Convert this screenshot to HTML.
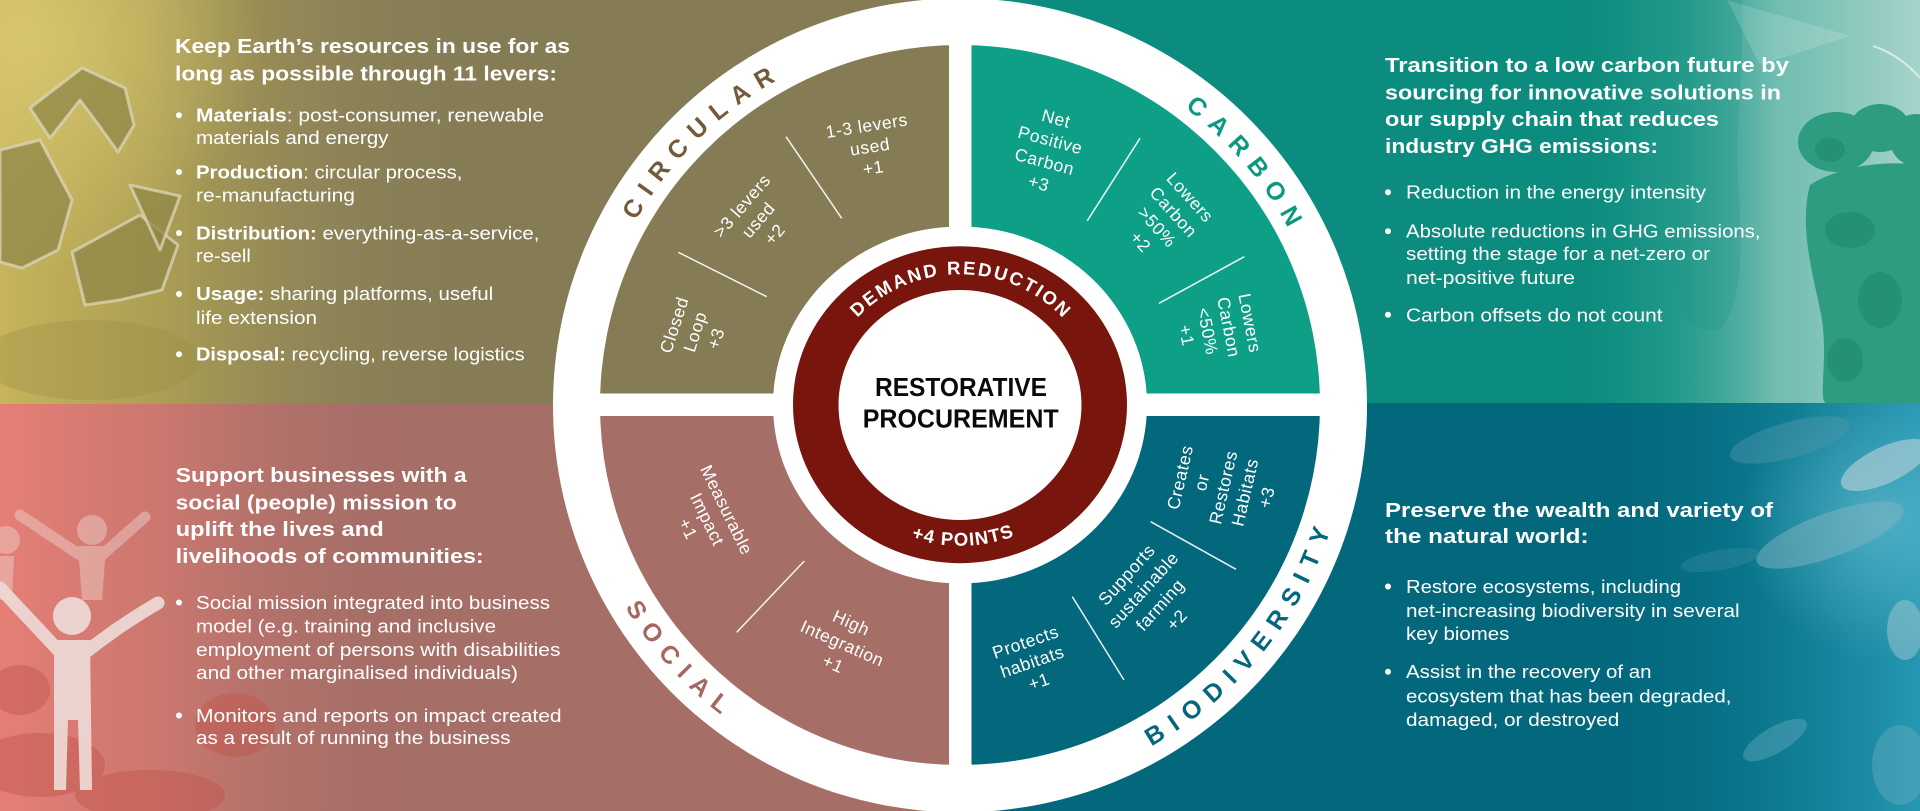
<!DOCTYPE html>
<html><head><meta charset="utf-8">
<style>
html,body{margin:0;padding:0;width:1920px;height:811px;overflow:hidden;background:#fff}
svg{display:block}
text{font-family:"Liberation Sans",Arial,sans-serif}
.h{font-weight:bold;font-size:20.5px;fill:#fff}
.b{font-size:18.5px;fill:#fff}
.s{font-size:17.5px;fill:#fff;letter-spacing:0.6px}
.ring{font-weight:bold;font-size:25px;letter-spacing:10px}
.red{font-weight:bold;font-size:18.5px;fill:#fff}
.ct{font-weight:bold;font-size:25.5px;fill:#0a0a0a}
</style></head><body>
<svg width="1920" height="811" viewBox="0 0 1920 811" xmlns="http://www.w3.org/2000/svg">
<defs>
  <linearGradient id="tlG" x1="0" y1="0" x2="520" y2="0" gradientUnits="userSpaceOnUse">
    <stop offset="0" stop-color="#c7b45c"/>
    <stop offset="0.3" stop-color="#b3a653" stop-opacity="0.85"/>
    <stop offset="0.65" stop-color="#9a8f5a" stop-opacity="0.4"/>
    <stop offset="1" stop-color="#857B55" stop-opacity="0"/>
  </linearGradient>
  <radialGradient id="tlR" cx="30" cy="40" r="230" gradientUnits="userSpaceOnUse">
    <stop offset="0" stop-color="#dccb73" stop-opacity="0.8"/>
    <stop offset="1" stop-color="#dccb73" stop-opacity="0"/>
  </radialGradient>
  <linearGradient id="blG" x1="0" y1="0" x2="430" y2="0" gradientUnits="userSpaceOnUse">
    <stop offset="0" stop-color="#e57f76"/>
    <stop offset="0.4" stop-color="#d57a71" stop-opacity="0.75"/>
    <stop offset="1" stop-color="#A56E67" stop-opacity="0"/>
  </linearGradient>
  <linearGradient id="trG" x1="1560" y1="0" x2="1920" y2="0" gradientUnits="userSpaceOnUse">
    <stop offset="0" stop-color="#0C8C7E" stop-opacity="0"/>
    <stop offset="0.35" stop-color="#3aa898" stop-opacity="0.6"/>
    <stop offset="0.6" stop-color="#7cc2b6" stop-opacity="0.9"/>
    <stop offset="1" stop-color="#a6d3ca"/>
  </linearGradient>
  <linearGradient id="brG" x1="1580" y1="0" x2="1920" y2="0" gradientUnits="userSpaceOnUse">
    <stop offset="0" stop-color="#04687D" stop-opacity="0"/>
    <stop offset="0.5" stop-color="#0d7f96" stop-opacity="0.6"/>
    <stop offset="1" stop-color="#2a9db8" stop-opacity="0.9"/>
  </linearGradient>
  <radialGradient id="brR" cx="1880" cy="520" r="140" gradientUnits="userSpaceOnUse">
    <stop offset="0" stop-color="#6cc2d6" stop-opacity="0.6"/>
    <stop offset="1" stop-color="#6cc2d6" stop-opacity="0"/>
  </radialGradient>
  <path id="pCirc" d="M587,405.3 A373,373 0 0 1 960,32.3"/>
  <path id="pCarb" d="M987.97,33.35 A373,373 0 0 1 1331.95,433.27"/>
  <path id="pSoc" d="M569.65,382.79 A391,391 0 0 0 937.49,795.65"/>
  <path id="pBio" d="M996.12,794.63 A391,391 0 0 0 1349.33,369.18"/>
  <path id="pDem" d="M822.6,404.7 A137.4,130.4 0 0 1 1097.4,404.7"/>
  <path id="pPts" d="M810,404.7 A150,141 0 0 0 1110,404.7"/>
</defs>

<!-- backgrounds -->
<rect x="0" y="0" width="960" height="404" fill="#857B55"/>
<rect x="960" y="0" width="960" height="403" fill="#0C8C7E"/>
<rect x="0" y="404" width="960" height="407" fill="#A56E67"/>
<rect x="960" y="403" width="960" height="408" fill="#04687D"/>

<!-- TL photo -->
<rect x="0" y="0" width="520" height="404" fill="url(#tlG)"/>
<rect x="0" y="0" width="400" height="300" fill="url(#tlR)"/>
<g fill="#8f8747" fill-opacity="0.75" stroke="#dcd6bb" stroke-opacity="0.75" stroke-width="3" stroke-linejoin="round">
  <polygon points="30,108 82,68 125,88 134,125 118,152 98,124 80,100 50,138"/>
  <polygon points="0,150 40,140 72,200 58,250 22,268 0,262"/>
  <polygon points="72,252 140,215 178,245 162,290 120,300 85,305"/>
  <polygon points="130,185 180,196 160,250"/>
</g>
<ellipse cx="90" cy="360" rx="110" ry="40" fill="#9a8d45" opacity="0.35"/>

<!-- BL photo -->
<rect x="0" y="404" width="430" height="407" fill="url(#blG)"/>
<g fill="#c2554c" opacity="0.45">
  <ellipse cx="40" cy="765" rx="65" ry="32"/>
  <ellipse cx="150" cy="795" rx="75" ry="25"/>
  <ellipse cx="235" cy="725" rx="40" ry="32"/>
  <ellipse cx="20" cy="690" rx="30" ry="25"/>
</g>
<g opacity="0.45" fill="#efd5d0" stroke="#efd5d0">
  <circle cx="92" cy="530" r="15" stroke="none"/>
  <path d="M78,546 L106,546 L102,600 L82,600 Z" stroke="none"/>
  <path d="M80,555 L20,515 M102,555 L145,517" stroke-width="11" stroke-linecap="round" fill="none"/>
  <circle cx="6" cy="540" r="14" stroke="none"/>
  <path d="M0,556 L14,556 L12,600 L0,600 Z" stroke="none"/>
</g>
<g fill="#eedad6" stroke="#eedad6" opacity="0.92">
  <circle cx="72" cy="616" r="19" stroke="none"/>
  <path d="M54,640 L90,640 L92,790 L80,790 L78,720 L68,720 L66,790 L54,790 Z" stroke="none"/>
  <path d="M60,652 L0,588 M86,652 Q120,625 158,603" stroke-width="13" stroke-linecap="round" fill="none"/>
</g>

<!-- TR photo -->
<rect x="1560" y="0" width="360" height="403" fill="url(#trG)"/>
<path d="M1655,0 L1742,0 C1745,60 1735,120 1738,180 C1742,240 1745,300 1720,330 C1690,335 1668,310 1670,260 C1672,200 1650,140 1652,80 Z" fill="#1a9482" opacity="0.25"/>
<polygon points="1727,0 1850,36 1760,65" fill="#ffffff" opacity="0.15"/>
<path d="M1873,46 Q1900,55 1920,78" stroke="#ffffff" stroke-width="2" fill="none" opacity="0.6"/>
<g fill="#2d9c80">
  <ellipse cx="1836" cy="142" rx="38" ry="30"/>
  <ellipse cx="1880" cy="128" rx="30" ry="24"/>
  <ellipse cx="1916" cy="140" rx="26" ry="26"/>
  <path d="M1810,185 C1798,230 1815,280 1822,320 C1828,360 1818,400 1826,403 L1920,403 L1920,165 C1890,160 1840,165 1810,185 Z"/>
</g>
<g fill="#1d876d" opacity="0.55">
  <ellipse cx="1850" cy="230" rx="25" ry="18"/>
  <ellipse cx="1880" cy="300" rx="22" ry="28"/>
  <ellipse cx="1845" cy="360" rx="18" ry="22"/>
  <ellipse cx="1830" cy="150" rx="15" ry="12"/>
</g>

<!-- BR photo -->
<rect x="1580" y="403" width="340" height="408" fill="url(#brG)"/>
<rect x="1740" y="403" width="180" height="260" fill="url(#brR)"/>
<g>
  <ellipse cx="1790" cy="440" rx="62" ry="18" transform="rotate(-15 1790 440)" fill="#4f97a8" opacity="0.45"/>
  <ellipse cx="1830" cy="535" rx="78" ry="22" transform="rotate(-20 1830 535)" fill="#7fb3c1" opacity="0.5"/>
  <ellipse cx="1885" cy="465" rx="48" ry="18" transform="rotate(-25 1885 465)" fill="#a9cbd3" opacity="0.7"/>
  <ellipse cx="1905" cy="630" rx="18" ry="30" fill="#a0c8d2" opacity="0.5"/>
  <ellipse cx="1775" cy="740" rx="36" ry="13" transform="rotate(-30 1775 740)" fill="#6fb0c0" opacity="0.4"/>
  <ellipse cx="1900" cy="765" rx="28" ry="40" fill="#6fb0c0" opacity="0.4"/>
  <ellipse cx="1720" cy="560" rx="40" ry="10" transform="rotate(-10 1720 560)" fill="#3f8fa0" opacity="0.35"/>
</g>

<!-- circle structure -->
<circle cx="960" cy="405.3" r="407" fill="#fff"/>
<path d="M960,405 L600,405 A360,360 0 0 1 960,45 Z" fill="#857B55"/>
<path d="M960,405 L960,45 A360,360 0 0 1 1320,405 Z" fill="#0EA086"/>
<path d="M960,405 L1320,405 A360,360 0 0 1 960,765 Z" fill="#04687D"/>
<path d="M960,405 L960,765 A360,360 0 0 1 600,405 Z" fill="#A56E67"/>
<rect x="949" y="30" width="22.5" height="750" fill="#fff"/>
<rect x="590" y="393.5" width="740" height="22.5" fill="#fff"/>
<ellipse cx="960" cy="405" rx="187" ry="178.5" fill="#fff"/>
<ellipse cx="960" cy="404.7" rx="167" ry="158.5" fill="#78150D"/>
<ellipse cx="960" cy="405" rx="121.5" ry="115" fill="#fff"/>

<!-- ring labels -->
<text class="ring" fill="#735a3a" text-anchor="middle"><textPath href="#pCirc" startOffset="298">CIRCULAR</textPath></text>
<text class="ring" fill="#0b9a80" text-anchor="middle"><textPath href="#pCarb" startOffset="298">CARBON</textPath></text>
<text class="ring" fill="#a5675f" text-anchor="middle"><textPath href="#pSoc" startOffset="312">SOCIAL</textPath></text>
<text class="ring" fill="#03687d" text-anchor="middle"><textPath href="#pBio" startOffset="312">BIODIVERSITY</textPath></text>

<text class="red" text-anchor="middle" style="letter-spacing:2.2px"><textPath href="#pDem" startOffset="211.5">DEMAND REDUCTION</textPath></text>
<text class="red" text-anchor="middle" style="letter-spacing:1.2px"><textPath href="#pPts" startOffset="232">+4 POINTS</textPath></text>

<text class="ct" x="875" y="396" textLength="172" lengthAdjust="spacingAndGlyphs">RESTORATIVE</text>
<text class="ct" x="862.7" y="427.7" textLength="196" lengthAdjust="spacingAndGlyphs">PROCUREMENT</text>

<!-- divider lines -->
<g stroke="#fff" stroke-width="1.5" stroke-opacity="0.9">
  <line x1="786" y1="136.7" x2="841.7" y2="218.3"/>
  <line x1="678.3" y1="252.3" x2="766.7" y2="296.7"/>
  <line x1="1140" y1="138.3" x2="1087.3" y2="220.7"/>
  <line x1="1244.3" y1="256.7" x2="1159" y2="303.3"/>
  <line x1="804.3" y1="561" x2="736.7" y2="632.3"/>
  <line x1="1150.7" y1="521.7" x2="1236" y2="569.3"/>
  <line x1="1072.3" y1="596.7" x2="1124" y2="680"/>
</g>

<!-- sector labels -->
<g class="s" text-anchor="middle">
  <g transform="translate(870,146.7) rotate(-9)">
    <text class="s" y="-15.3">1-3 levers</text><text class="s" y="6">used</text><text class="s" y="27.3">+1</text>
  </g>
  <g transform="translate(758.3,220) rotate(-49)">
    <text class="s" y="-15.7">&gt;3 levers</text><text class="s" y="6">used</text><text class="s" y="27.7">+2</text>
  </g>
  <g transform="translate(695,331.7) rotate(-72)">
    <text class="s" y="-15.9">Closed</text><text class="s" y="6">Loop</text><text class="s" y="27.9">+3</text>
  </g>
  <g transform="translate(1047.5,150.8) rotate(15)">
    <text class="s" y="-27.45">Net</text><text class="s" y="-5.15">Positive</text><text class="s" y="17.15">Carbon</text><text class="s" y="39.45">+3</text>
  </g>
  <g transform="translate(1165.3,219.5) rotate(48)">
    <text class="s" y="-27.3">Lowers</text><text class="s" y="-5.1">Carbon</text><text class="s" y="17.1">&gt;50%</text><text class="s" y="39.3">+2</text>
  </g>
  <g transform="translate(1218.3,329.2) rotate(79)">
    <text class="s" y="-26.25">Lowers</text><text class="s" y="-4.75">Carbon</text><text class="s" y="16.75">&lt;50%</text><text class="s" y="38.25">+1</text>
  </g>
  <g transform="translate(707.3,519.3) rotate(64)">
    <text class="s" y="-15.5">Measurable</text><text class="s" y="6">Impact</text><text class="s" y="27.5">+1</text>
  </g>
  <g transform="translate(842.3,643.3) rotate(24)">
    <text class="s" y="-16.4">High</text><text class="s" y="6">Integration</text><text class="s" y="28.4">+1</text>
  </g>
  <g transform="translate(1223.3,487.3) rotate(-77)">
    <text class="s" y="-38.4">Creates</text><text class="s" y="-16.2">or</text><text class="s" y="6">Restores</text><text class="s" y="28.2">Habitats</text><text class="s" y="50.4">+3</text>
  </g>
  <g transform="translate(1151.7,597.3) rotate(-48)">
    <text class="s" y="-27.75">Supports</text><text class="s" y="-5.25">sustainable</text><text class="s" y="17.25">farming</text><text class="s" y="39.75">+2</text>
  </g>
  <g transform="translate(1032.3,661.7) rotate(-19)">
    <text class="s" y="-14.8">Protects</text><text class="s" y="6">habitats</text><text class="s" y="26.8">+1</text>
  </g>
</g>

<!-- TL text -->
<text class="h" x="175" y="53" textLength="395" lengthAdjust="spacingAndGlyphs">Keep Earth’s resources in use for as</text>
<text class="h" x="175" y="80.5" textLength="382" lengthAdjust="spacingAndGlyphs">long as possible through 11 levers:</text>
<g fill="#fff">
  <circle cx="179" cy="115.3" r="3"/><circle cx="179" cy="172" r="3"/><circle cx="179" cy="233" r="3"/><circle cx="179" cy="294" r="3"/><circle cx="179" cy="354.3" r="3"/>
</g>
<text class="b" x="196" y="121.5" textLength="348" lengthAdjust="spacingAndGlyphs"><tspan font-weight="bold">Materials</tspan>: post-consumer, renewable</text>
<text class="b" x="196" y="143.8" textLength="192.5" lengthAdjust="spacingAndGlyphs">materials and energy</text>
<text class="b" x="196" y="178.3" textLength="266.4" lengthAdjust="spacingAndGlyphs"><tspan font-weight="bold">Production</tspan>: circular process,</text>
<text class="b" x="196" y="201.4" textLength="159" lengthAdjust="spacingAndGlyphs">re-manufacturing</text>
<text class="b" x="196" y="239.3" textLength="343.4" lengthAdjust="spacingAndGlyphs"><tspan font-weight="bold">Distribution:</tspan> everything-as-a-service,</text>
<text class="b" x="196" y="261.9" textLength="54.8" lengthAdjust="spacingAndGlyphs">re-sell</text>
<text class="b" x="196" y="300.2" textLength="297.2" lengthAdjust="spacingAndGlyphs"><tspan font-weight="bold">Usage:</tspan> sharing platforms, useful</text>
<text class="b" x="196" y="323.8" textLength="121" lengthAdjust="spacingAndGlyphs">life extension</text>
<text class="b" x="196" y="360.5" textLength="328.6" lengthAdjust="spacingAndGlyphs"><tspan font-weight="bold">Disposal:</tspan> recycling, reverse logistics</text>

<!-- BL text -->
<text class="h" x="175.7" y="482" textLength="291" lengthAdjust="spacingAndGlyphs">Support businesses with a</text>
<text class="h" x="175.7" y="509.3" textLength="281" lengthAdjust="spacingAndGlyphs">social (people) mission to</text>
<text class="h" x="175.7" y="536.1" textLength="208" lengthAdjust="spacingAndGlyphs">uplift the lives and</text>
<text class="h" x="175.7" y="563" textLength="308" lengthAdjust="spacingAndGlyphs">livelihoods of communities:</text>
<g fill="#fff"><circle cx="179" cy="602.5" r="3"/><circle cx="179" cy="715.5" r="3"/></g>
<text class="b" x="196" y="608.8" textLength="354" lengthAdjust="spacingAndGlyphs">Social mission integrated into business</text>
<text class="b" x="196" y="632.6" textLength="300" lengthAdjust="spacingAndGlyphs">model (e.g. training and inclusive</text>
<text class="b" x="196" y="656.2" textLength="364.5" lengthAdjust="spacingAndGlyphs">employment of persons with disabilities</text>
<text class="b" x="196" y="679.2" textLength="322" lengthAdjust="spacingAndGlyphs">and other marginalised individuals)</text>
<text class="b" x="196" y="721.8" textLength="365.6" lengthAdjust="spacingAndGlyphs">Monitors and reports on impact created</text>
<text class="b" x="196" y="744" textLength="314.5" lengthAdjust="spacingAndGlyphs">as a result of running the business</text>

<!-- TR text -->
<text class="h" x="1385" y="72" textLength="404" lengthAdjust="spacingAndGlyphs">Transition to a low carbon future by</text>
<text class="h" x="1385" y="99.3" textLength="396" lengthAdjust="spacingAndGlyphs">sourcing for innovative solutions in</text>
<text class="h" x="1385" y="126" textLength="334" lengthAdjust="spacingAndGlyphs">our supply chain that reduces</text>
<text class="h" x="1385" y="153" textLength="273" lengthAdjust="spacingAndGlyphs">industry GHG emissions:</text>
<g fill="#fff"><circle cx="1388" cy="192.3" r="3"/><circle cx="1388" cy="231.2" r="3"/><circle cx="1388" cy="314.8" r="3"/></g>
<text class="b" x="1406" y="198.6" textLength="300" lengthAdjust="spacingAndGlyphs">Reduction in the energy intensity</text>
<text class="b" x="1406" y="237.5" textLength="354.6" lengthAdjust="spacingAndGlyphs">Absolute reductions in GHG emissions,</text>
<text class="b" x="1406" y="260" textLength="304" lengthAdjust="spacingAndGlyphs">setting the stage for a net-zero or</text>
<text class="b" x="1406" y="284.2" textLength="169" lengthAdjust="spacingAndGlyphs">net-positive future</text>
<text class="b" x="1406" y="321.3" textLength="256.6" lengthAdjust="spacingAndGlyphs">Carbon offsets do not count</text>

<!-- BR text -->
<text class="h" x="1385" y="517" textLength="388" lengthAdjust="spacingAndGlyphs">Preserve the wealth and variety of</text>
<text class="h" x="1385" y="543.2" textLength="203.6" lengthAdjust="spacingAndGlyphs">the natural world:</text>
<g fill="#fff"><circle cx="1388" cy="586.5" r="3"/><circle cx="1388" cy="671.8" r="3"/></g>
<text class="b" x="1406" y="593" textLength="275" lengthAdjust="spacingAndGlyphs">Restore ecosystems, including</text>
<text class="b" x="1406" y="617.2" textLength="333.6" lengthAdjust="spacingAndGlyphs">net-increasing biodiversity in several</text>
<text class="b" x="1406" y="640" textLength="103.4" lengthAdjust="spacingAndGlyphs">key biomes</text>
<text class="b" x="1406" y="678.2" textLength="245.5" lengthAdjust="spacingAndGlyphs">Assist in the recovery of an</text>
<text class="b" x="1406" y="702.5" textLength="325.4" lengthAdjust="spacingAndGlyphs">ecosystem that has been degraded,</text>
<text class="b" x="1406" y="725.8" textLength="213.3" lengthAdjust="spacingAndGlyphs">damaged, or destroyed</text>
</svg>
</body></html>
